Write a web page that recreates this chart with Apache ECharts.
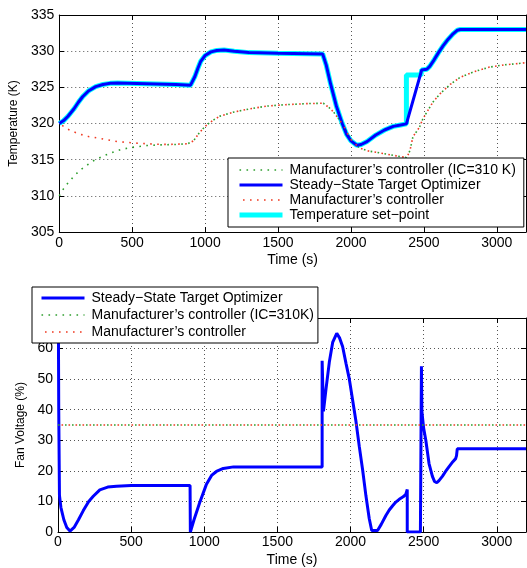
<!DOCTYPE html>
<html><head><meta charset="utf-8">
<script src="https://cdn.jsdelivr.net/npm/echarts@6/dist/echarts.min.js"></script>
<style>html,body{margin:0;padding:0;background:#fff}#c{width:527px;height:568px}</style>
</head><body><div id="c"></div>
<script>
const FONT = "'Liberation Sans', Arial, Helvetica, sans-serif";

// ---- series names ----
const N_IC_TOP = 'Manufacturer\u2019s controller (IC=310 K)';
const N_IC_BOT = 'Manufacturer\u2019s controller (IC=310K)';
const N_SSTO = 'Steady\u2212State Target Optimizer';
const N_MFR = 'Manufacturer\u2019s controller';
const N_SP = 'Temperature set\u2212point';

// ---- top panel: temperature (K) ----
const sstoTempT = [0,30,60,100,130,160,200,250,300,350,400,600,800,900,910,930,950,970,1000,1040,1080,1130,1200,1300,1500,1806,1830,1860,1900,1940,1970,2000,2040,2070,2110,2170,2230,2290,2340,2380,2485,2520,2540,2570,2600,2630,2660,2700,2730,2750,3200];
const sstoTempV = [320.0,320.4,321.0,322.0,322.9,323.7,324.5,325.1,325.4,325.55,325.6,325.5,325.4,325.3,325.5,326.5,327.6,328.6,329.4,329.9,330.1,330.15,330.0,329.8,329.7,329.6,328.1,325.5,322.4,320.0,318.5,317.6,317.0,317.1,317.5,318.4,319.1,319.6,319.8,319.95,327.4,327.5,327.9,328.8,329.8,330.7,331.5,332.4,332.9,333.0,333.0];

const setpointT = [0,30,60,100,130,160,200,250,300,350,400,600,800,900,910,930,950,970,1000,1040,1080,1130,1200,1300,1500,1806,1830,1860,1900,1940,1970,2000,2040,2070,2110,2170,2230,2290,2340,2380,2380,2480,2485,2520,2540,2570,2600,2630,2660,2700,2730,2750,3200];
const setpointV = [320.0,320.4,321.0,322.0,322.9,323.7,324.5,325.1,325.4,325.55,325.6,325.5,325.4,325.3,325.5,326.5,327.6,328.6,329.4,329.9,330.1,330.15,330.0,329.8,329.7,329.6,328.1,325.5,322.4,320.0,318.5,317.6,317.0,317.1,317.5,318.4,319.1,319.6,319.8,319.95,326.7,326.7,327.4,327.5,327.9,328.8,329.8,330.7,331.5,332.4,332.9,333.0,333.0];

const mfrTempT = [0,60,130,200,290,400,520,650,750,880,920,960,1000,1050,1100,1200,1300,1420,1550,1700,1810,1850,1880,1910,1950,1980,2010,2060,2120,2180,2290,2378,2390,2405,2425,2450,2470,2490,2515,2560,2610,2680,2750,2850,2950,3050,3200];
const mfrTempV = [320.0,319.2,318.6,318.2,317.9,317.5,317.3,317.15,317.1,317.2,317.6,318.7,319.6,320.4,321.0,321.6,322.0,322.4,322.6,322.75,322.8,322.2,321.6,320.8,319.7,318.5,317.5,316.6,316.2,316.0,315.6,315.3,315.6,316.3,318.2,318.9,319.5,320.5,321.4,322.9,324.1,325.4,326.4,327.2,327.8,328.1,328.4];

const icTempT = [0,30,60,100,140,180,230,290,350,420,500,600,700,800,880,920,960,1000,1050,1100,1200,1300,1420,1550,1700,1810,1850,1880,1910,1950,1980,2010,2060,2120,2180,2290,2378,2390,2405,2425,2450,2470,2490,2515,2560,2610,2680,2750,2850,2950,3050,3200];
const icTempV = [310.0,311.0,311.8,312.7,313.5,314.1,314.8,315.4,315.9,316.4,316.7,316.95,317.05,317.1,317.2,317.6,318.7,319.6,320.4,321.0,321.6,322.0,322.4,322.6,322.75,322.8,322.2,321.6,320.8,319.7,318.5,317.5,316.6,316.2,316.0,315.6,315.3,315.6,316.3,318.2,318.9,319.5,320.5,321.4,322.9,324.1,325.4,326.4,327.2,327.8,328.1,328.4];

// ---- bottom panel: fan voltage (%) ----
const sstoFanT = [0,5,10,20,40,60,82,110,140,173,210,241,286,340,400,500,903,905,915,930,968,1014,1050,1083,1130,1200,1806,1806,1815,1833,1855,1878,1906,1925,1946,1970,1992,2015,2037,2060,2083,2105,2128,2145,2185,2210,2242,2265,2288,2310,2333,2360,2378,2388,2388,2478,2485,2488,2500,2515,2537,2560,2575,2590,2605,2628,2650,2674,2700,2719,2725,2730,3200];
const sstoFanV = [100,40,12,8,4,1.5,0.3,1.5,4,7,10,11.7,13.8,14.7,15.0,15.2,15.2,0,0.5,4,9.5,15.5,18.5,19.8,20.8,21.3,21.3,56,39.5,47,55.5,62,65,63.5,60.7,55,50,43,36.3,28,20.3,12,4.4,0.5,0.5,2.5,5.4,7.2,8.6,9.8,10.7,11.5,12.3,13.9,0,0,54.2,39.5,34,30,22.4,18.2,16.5,16.1,16.8,18.2,19.8,21.4,23.0,24.0,25,27.2,27.2];

const icFanT = [0,3200];
const icFanV = [35,35];
const mfrFanT = [0,3200];
const mfrFanV = [35,35];

// ---- axes ----
const timeMin = 0, timeMax = 3200, timeStep = 500;
const tempMin = 305, tempMax = 335, tempStep = 5;
const fanMin = 0, fanMax = 70, fanStep = 10;

const zip = (t, v) => t.map((x, i) => [x, v[i]]);

const BLUE = '#0000ff', CYAN = '#00ffff', GREEN = '#2e9e2e', RED = '#f03a22';
const DOT = [1.6, 5.4];

const gridLine = {show: true, lineStyle: {color: '#555', width: 1, type: [1, 3]}};
const axisLine = {show: true, onZero: false, lineStyle: {color: '#000', width: 1}};
const tick = {show: true, inside: true, length: 5, lineStyle: {color: '#000', width: 1}};
const lbl = {color: '#000', fontSize: 14, fontFamily: FONT, formatter: v => String(v)};

function xAxes(gi) {
  return [
    {gridIndex: gi, type: 'value', position: 'bottom', min: timeMin, max: timeMax, interval: timeStep,
     name: 'Time (s)', nameLocation: 'middle', nameGap: 21,
     nameTextStyle: {color: '#000', fontSize: 14, fontFamily: FONT},
     axisLine, axisTick: tick, splitLine: gridLine,
     axisLabel: Object.assign({margin: gi === 0 ? 4 : 3, showMaxLabel: false}, lbl)},
    {gridIndex: gi, type: 'value', position: 'top', min: timeMin, max: timeMax, interval: timeStep,
     axisLine, axisTick: tick, splitLine: {show: false}, axisLabel: {show: false}}
  ];
}
function yAxes(gi, min, max, step, name, gap) {
  return [
    {gridIndex: gi, type: 'value', position: 'left', min, max, interval: step,
     name, nameLocation: 'middle', nameGap: gap,
     nameTextStyle: {color: '#000', fontSize: 12, fontFamily: FONT},
     axisLine, axisTick: tick, splitLine: gridLine,
     axisLabel: Object.assign({margin: 5, showMaxLabel: gi === 0}, lbl)},
    {gridIndex: gi, type: 'value', position: 'right', min, max, interval: step,
     axisLine, axisTick: tick, splitLine: {show: false}, axisLabel: {show: false}}
  ];
}

function line(name, data, xi, yi, color, width, dotted, z, offset) {
  return {
    type: 'line', name, data, xAxisIndex: xi, yAxisIndex: yi,
    symbol: 'none', showSymbol: false, animation: false, z,
    lineStyle: {color, width, type: dotted ? DOT : 'solid', dashOffset: offset || 0, cap: 'butt'},
    itemStyle: {color},
    emphasis: {disabled: true}
  };
}

const noSym = {opacity: 0};
function legendItem(name, w) {
  return {name, lineStyle: {width: w}, itemStyle: noSym};
}

const chart = echarts.init(document.getElementById('c'), null, {renderer: 'canvas'});
chart.setOption({
  animation: false,
  backgroundColor: '#fff',
  textStyle: {fontFamily: FONT},
  grid: [
    {left: 58, top: 15, width: 468, height: 217, show: false},
    {left: 58, top: 318, width: 468, height: 219, show: false}
  ],
  xAxis: [...xAxes(0), ...xAxes(1)],
  yAxis: [...yAxes(0, tempMin, tempMax, tempStep, 'Temperature (K)', 30),
          ...yAxes(1, fanMin, fanMax, fanStep, 'Fan Voltage (%)', 25)],
  legend: [
    {orient: 'vertical', left: 228, top: 158, padding: [5, 8, 5, 9], itemGap: 1,
     itemWidth: 43, itemHeight: 14, selectedMode: false, z: 10,
     backgroundColor: '#fff', borderColor: '#000', borderWidth: 1, borderRadius: 0,
     textStyle: {color: '#000', fontSize: 14, fontFamily: FONT, lineHeight: 14, padding: [0, 0, 0, 2]},
     data: [
       legendItem(N_IC_TOP, 1.6),
       legendItem(N_SSTO, 3),
       legendItem(N_MFR, 1.6),
       legendItem(N_SP, 5)
     ]},
    {orient: 'vertical', left: 32, top: 287, padding: [4, 4, 4, 8], itemGap: 3,
     itemWidth: 43, itemHeight: 14, selectedMode: false, z: 10,
     backgroundColor: '#fff', borderColor: '#000', borderWidth: 1, borderRadius: 0,
     textStyle: {color: '#000', fontSize: 14, fontFamily: FONT, lineHeight: 14, padding: [0, 0, 0, 2]},
     data: [
       legendItem(N_SSTO, 3),
       legendItem(N_IC_BOT, 1.6),
       legendItem(N_MFR, 1.6)
     ]}
  ],
  series: [
    line(N_IC_TOP, zip(icTempT, icTempV), 0, 0, GREEN, 1.6, true, 3, 0),
    line(N_SP, zip(setpointT, setpointV), 0, 0, CYAN, 5, false, 2),
    line(N_SSTO, zip(sstoTempT, sstoTempV), 0, 0, BLUE, 3, false, 3),
    line(N_MFR, zip(mfrTempT, mfrTempV), 0, 0, RED, 1.6, true, 4, 3.5),
    line(N_SSTO, zip(sstoFanT, sstoFanV), 2, 2, BLUE, 3, false, 3),
    line(N_IC_BOT, zip(icFanT, icFanV), 2, 2, GREEN, 1.6, true, 3, 0),
    line(N_MFR, zip(mfrFanT, mfrFanV), 2, 2, RED, 1.6, true, 4, 3.5)
  ]
});
</script></body></html>
